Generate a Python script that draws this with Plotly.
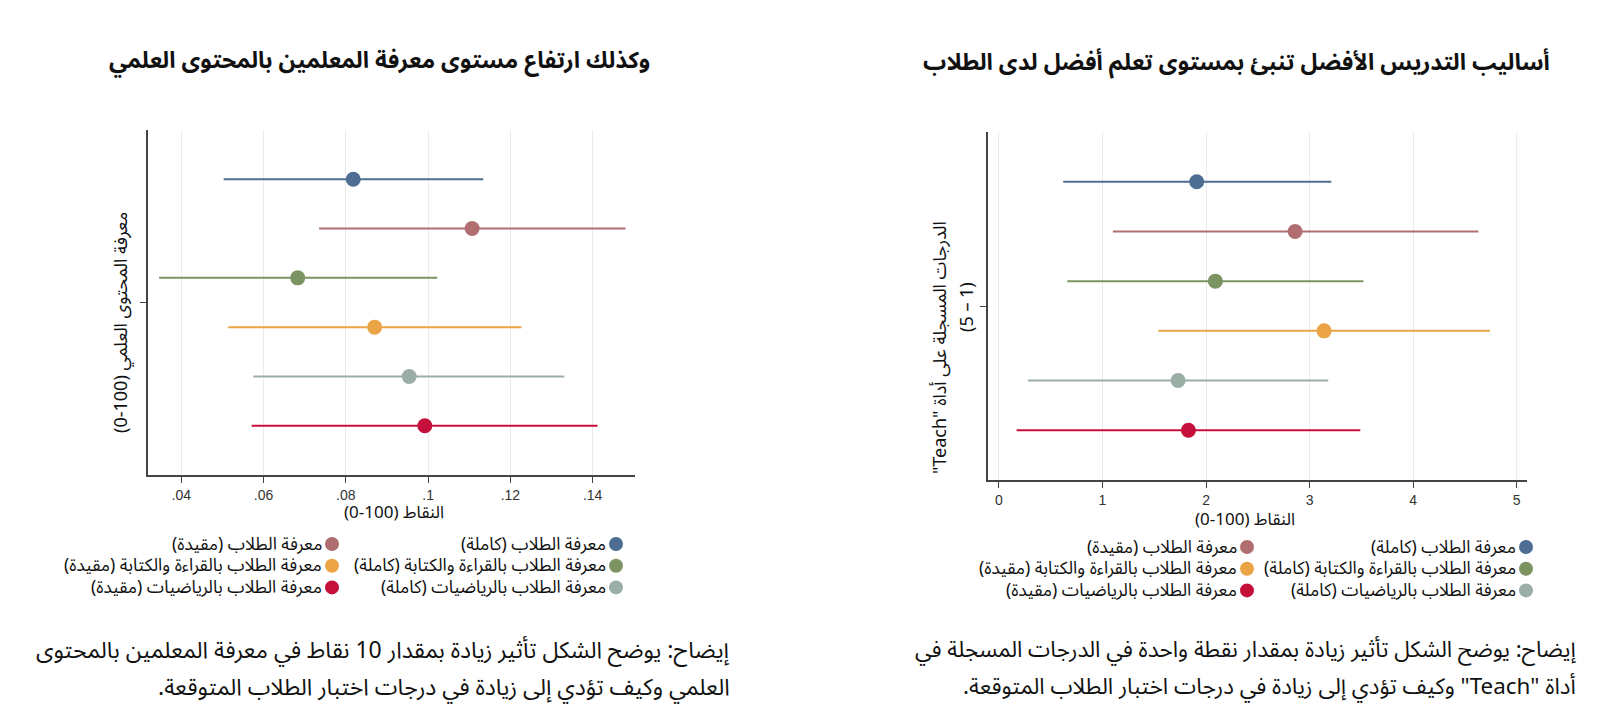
import plotly.graph_objects as go

# order of rows, top to bottom
groups = ["معرفة الطلاب (كاملة)", "معرفة الطلاب (مقيدة)",
          "معرفة الطلاب بالقراءة والكتابة (كاملة)", "معرفة الطلاب بالقراءة والكتابة (مقيدة)",
          "معرفة الطلاب بالرياضيات (كاملة)", "معرفة الطلاب بالرياضيات (مقيدة)"]
colours = ["#4d6d93", "#b06e71", "#7b9462", "#eba445", "#9aaea6", "#c4103a"]
rows = [1, 2, 3, 4, 5, 6]

# left panel: content knowledge (0-100)
ck_est = [0.0818, 0.1107, 0.0683, 0.0870, 0.0954, 0.0992]
ck_lo = [0.0503, 0.0735, 0.0346, 0.0514, 0.0575, 0.0571]
ck_hi = [0.1134, 0.1480, 0.1022, 0.1227, 0.1331, 0.1412]
ck_ticks = [0.04, 0.06, 0.08, 0.10, 0.12, 0.14]
ck_ticktext = [".04", ".06", ".08", ".1", ".12", ".14"]

# right panel: Teach score (1-5)
te_est = [1.91, 2.86, 2.09, 3.14, 1.73, 1.83]
te_lo = [0.62, 1.10, 0.66, 1.54, 0.28, 0.17]
te_hi = [3.21, 4.63, 3.52, 4.74, 3.18, 3.49]
te_ticks = [0, 1, 2, 3, 4, 5]

W, H = 1618, 721
AR = "Noto Sans Arabic, Noto Naskh Arabic, DejaVu Sans, sans-serif"
RLE, PDF = "\u202b", "\u202c"


def rtl(s):
    return RLE + s + PDF


def px(x):
    return x / W


def py(y):
    return 1 - y / H


fig = go.Figure()
for xa, ya, est, lo, hi in [("x", "y", ck_est, ck_lo, ck_hi), ("x2", "y2", te_est, te_lo, te_hi)]:
    for i in range(len(groups)):
        fig.add_trace(go.Scatter(
            x=[est[i]], y=[rows[i]], xaxis=xa, yaxis=ya, mode="markers",
            marker=dict(size=15, color=colours[i]),
            error_x=dict(type="data", symmetric=False, array=[hi[i] - est[i]],
                         arrayminus=[est[i] - lo[i]], width=0, thickness=2, color=colours[i]),
            showlegend=False, hoverinfo="skip"))

axis_common = dict(showline=True, linecolor="#444", linewidth=1.5, ticks="outside",
                   ticklen=6, tickcolor="#444", zeroline=False,
                   tickfont=dict(family="Liberation Sans, Arial", size=14, color="#333"))

fig.update_layout(
    width=W, height=H, margin=dict(l=0, r=0, t=0, b=0),
    paper_bgcolor="white", plot_bgcolor="white", showlegend=False,
    xaxis=dict(domain=[px(140), px(627)], range=[0.0319, 0.1503], anchor="y",
               tickvals=ck_ticks, ticktext=ck_ticktext, showgrid=True, gridcolor="#ebebeb",
               **axis_common),
    yaxis=dict(domain=[py(467), py(122)], range=[7, 0], anchor="x",
               tickvals=[3.5], ticktext=[""], showgrid=False, **axis_common),
    xaxis2=dict(domain=[px(980), px(1519)], range=[-0.106, 5.1], anchor="y2",
                tickvals=te_ticks, showgrid=True, gridcolor="#ebebeb", **axis_common),
    yaxis2=dict(domain=[py(472), py(124)], range=[7, 0], anchor="x2",
                tickvals=[3.5], ticktext=[""], showgrid=False, **axis_common),
)

ann = []
shapes = []


def text(x, y, s, size, xanchor="center", bold=False, angle=0):
    ann.append(dict(x=px(x), y=py(y), xref="paper", yref="paper", showarrow=False,
                    text=("<b>" + rtl(s) + "</b>") if bold else rtl(s),
                    xanchor=xanchor, yanchor="middle", textangle=angle,
                    font=dict(family=AR, size=size, color="#111")))


# titles
text(371, 53, "وكذلك ارتفاع مستوى معرفة المعلمين بالمحتوى العلمي", 23, bold=True)
text(1228, 55, "أساليب التدريس الأفضل تنبئ بمستوى تعلم أفضل لدى الطلاب", 23, bold=True)

# axis titles
text(386, 505, "النقاط (100-0)", 17)
text(1237, 512, "النقاط (100-0)", 17)
text(113, 314, "معرفة المحتوى العلمي (100-0)", 18, angle=-90)
text(932, 339, "الدرجات المسجلة على أداة \"Teach\"", 18, angle=-90)
text(959, 299, "(1 – 5)", 18, angle=-90)

# legends: two columns of three
for right_x, left_x, top in [(608, 324, 536), (1518, 1239, 539)]:
    for i in range(len(groups)):
        cx = right_x if i % 2 == 0 else left_x
        cy = top + (i // 2) * 21.7
        shapes.append(dict(type="circle", xref="paper", yref="paper",
                           xsizemode="pixel", ysizemode="pixel",
                           xanchor=px(cx), yanchor=py(cy), x0=-7, x1=7, y0=-7, y1=7,
                           fillcolor=colours[i], line=dict(width=0)))
        text(cx - 8, cy, groups[i], 17.5, xanchor="right")

# notes
text(724, 642, "إيضاح: يوضح الشكل تأثير زيادة بمقدار 10 نقاط في معرفة المعلمين بالمحتوى", 23, xanchor="right")
text(724, 679, "العلمي وكيف تؤدي إلى زيادة في درجات اختبار الطلاب المتوقعة.", 23, xanchor="right")
text(1570, 642, "إيضاح: يوضح الشكل تأثير زيادة بمقدار نقطة واحدة في الدرجات المسجلة في", 22.4, xanchor="right")
text(1570, 679, "أداة \"Teach\" وكيف تؤدي إلى زيادة في درجات اختبار الطلاب المتوقعة.", 22.4, xanchor="right")

fig.update_layout(annotations=ann, shapes=shapes)
fig.write_html("out.html")
